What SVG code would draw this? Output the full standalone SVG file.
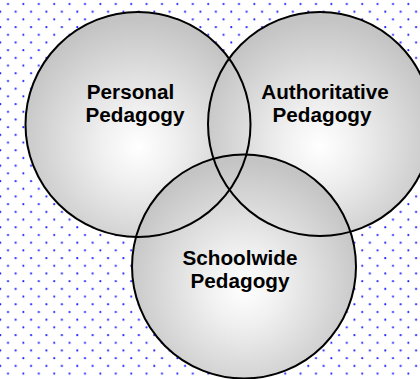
<svg xmlns="http://www.w3.org/2000/svg" width="420" height="379" viewBox="0 0 420 379">
<defs>
<pattern id="dots" x="0" y="0" width="15.4" height="15.4" patternUnits="userSpaceOnUse">
<circle cx="8" cy="4" r="1.05" fill="#2020ff"/>
<circle cx="0.3" cy="11.7" r="1.05" fill="#2020ff"/>
<circle cx="15.7" cy="11.7" r="1.05" fill="#2020ff"/>
</pattern>
<radialGradient id="g" cx="50%" cy="58%" r="55%" fx="50%" fy="60%">
<stop offset="0" stop-color="#ffffff"/>
<stop offset="0.3" stop-color="#f0f0f0"/>
<stop offset="1" stop-color="#c4c4c4"/>
</radialGradient>
</defs>
<style>
.fill{fill:url(#g);stroke:none}
.edge{fill:none;stroke:#000;stroke-width:2}
.lbl{font-family:"Liberation Sans",Arial,sans-serif;font-weight:bold;font-size:20.7px;fill:#000;text-anchor:middle}
</style>
<rect width="420" height="379" fill="#ffffff"/>
<rect width="420" height="379" fill="url(#dots)"/>
<g id="personal">
<circle class="fill" cx="138" cy="124.5" r="112.5"/>
</g>
<g id="authoritative">
<circle class="fill" cx="320" cy="124" r="112"/>
</g>
<g id="schoolwide">
<circle class="fill" cx="244" cy="266.5" r="112"/>
</g>
<g id="outlines">
<circle class="edge" cx="138" cy="124.5" r="112.5"/>
<circle class="edge" cx="320" cy="124" r="112"/>
<circle class="edge" cx="244" cy="266.5" r="112"/>
</g>
<g id="labels">
<text class="lbl" x="130.5" y="98.5">Personal</text>
<text class="lbl" x="135" y="121.5">Pedagogy</text>
<text class="lbl" x="325" y="98.5">Authoritative</text>
<text class="lbl" x="322" y="121.5">Pedagogy</text>
<text class="lbl" x="240" y="264.5">Schoolwide</text>
<text class="lbl" x="240" y="287.5">Pedagogy</text>
</g>
</svg>
